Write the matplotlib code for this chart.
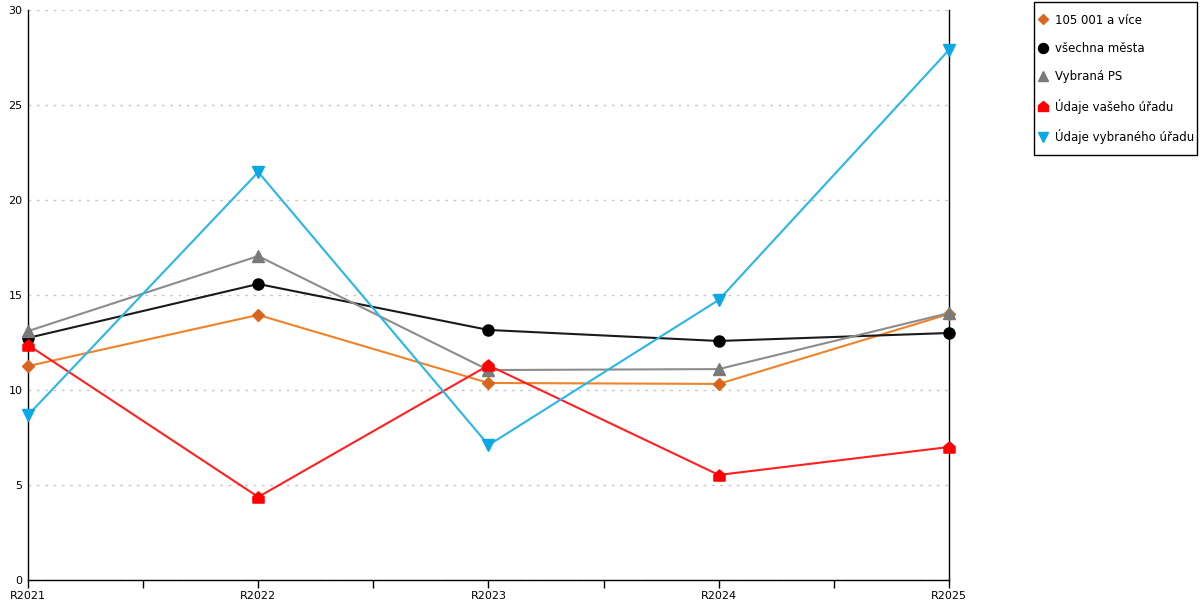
import matplotlib.pyplot as plt
from matplotlib.path import Path
from matplotlib.patches import Rectangle
import numpy as np

categories = ['R2021', 'R2022', 'R2023', 'R2024', 'R2025']

mesta_105 = [11.26, 13.95, 10.37, 10.32, 14.0]
vsechna_mesta = [12.74, 15.58, 13.16, 12.58, 13.0]
vybrana_ps = [13.1, 17.05, 11.05, 11.1, 14.05]
vas_urad = [12.37, 4.37, 11.3, 5.53, 7.0]
vybrany_urad = [8.68, 21.47, 7.1, 14.74, 27.9]

labels = ['105 001 a více', 'všechna města', 'Vybraná PS',
          'Údaje vašeho úřadu', 'Údaje vybraného úřadu']

# "house" shaped marker for the red series
house = Path([(-1, -1), (1, -1), (1, 0.15), (0, 1), (-1, 0.15), (-1, -1)],
             [Path.MOVETO] + [Path.LINETO] * 4 + [Path.CLOSEPOLY])

series = [
    (mesta_105, '#f08228', '#d9661e', 'D', 6),
    (vsechna_mesta, '#1a1a1a', '#000000', 'o', 8),
    (vybrana_ps, '#8c8c8c', '#7a7a7a', '^', 8),
    (vas_urad, '#ff2020', '#ff0000', house, 8),
    (vybrany_urad, '#29b6ea', '#0aa8e6', 'v', 8),
]

plt.rcParams['font.family'] = ['DejaVu Sans']

W, H = 1200, 600
fig = plt.figure(figsize=(12, 6), dpi=100)
ax = fig.add_axes([28 / W, 20 / H, 921 / W, 570 / H])

x = np.arange(len(categories))
handles = []
for (vals, lc, mc, mk, ms), lab in zip(series, labels):
    h, = ax.plot(x, vals, color=lc, lw=1.5, marker=mk, markersize=ms,
                 markerfacecolor=mc, markeredgecolor=mc, label=lab,
                 clip_on=False, zorder=3)
    handles.append(h)

ax.set_xlim(0, 4)
ax.set_ylim(0, 30)
ax.set_yticks(range(0, 31, 5))
ax.set_xticks(x)
ax.set_xticklabels(categories)
ax.set_xticks(x[:-1] + 0.5, minor=True)
ax.yaxis.grid(True, color='#c8c8c8', linestyle=(0, (2, 4)), lw=1)
ax.set_axisbelow(True)

ax.spines['top'].set_visible(False)
for s in ['left', 'bottom', 'right']:
    ax.spines[s].set_color('black')
    ax.spines[s].set_linewidth(1)

ax.tick_params(axis='x', which='both', direction='out', length=6, width=1,
               labelsize=8, pad=2, colors='black')
ax.tick_params(axis='y', length=0, labelsize=8, pad=4)

# legend box drawn separately so its size can match the original
fig.patches.append(Rectangle((1034 / W, 1 - 155 / H), 163 / W, 153 / H,
                             transform=fig.transFigure, fill=False,
                             edgecolor='black', lw=1))
leg = fig.legend(handles=handles, loc='upper left',
                 bbox_to_anchor=(1035 / W, 1 - 10 / H),
                 frameon=False, fontsize=8.5,
                 handlelength=0.7, handletextpad=0.7, labelspacing=1.3,
                 borderpad=0.3, borderaxespad=0)
for lh in leg.legend_handles:
    lh.set_linestyle('none')
    lh.set_markersize(lh.get_markersize() * 0.9)

fig.savefig('out.png', dpi=100)
